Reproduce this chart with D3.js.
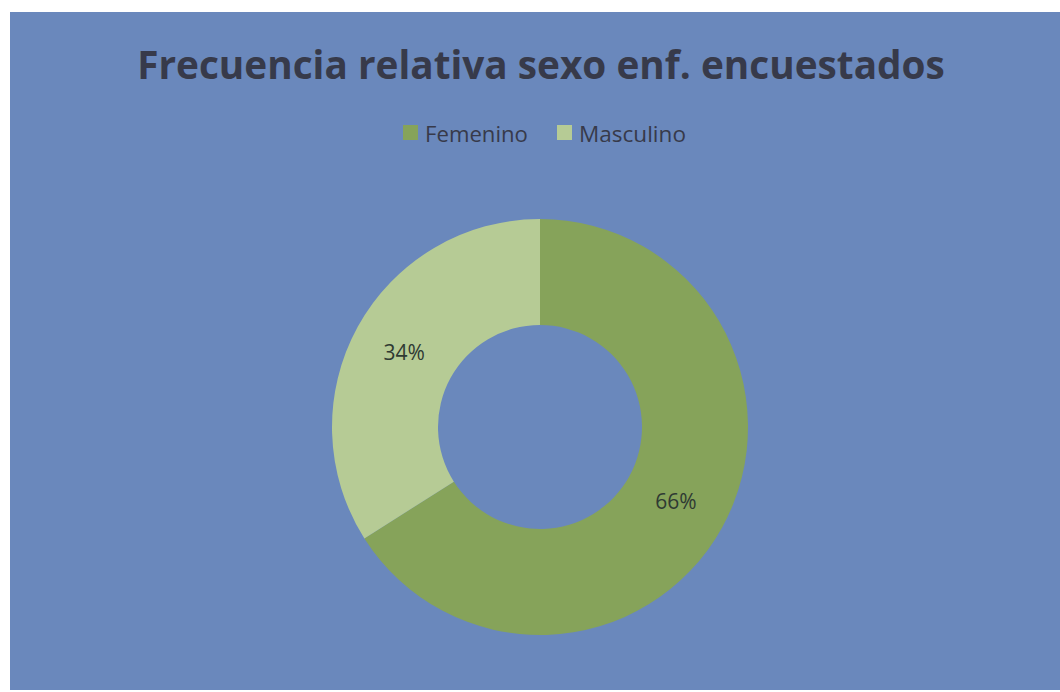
<!DOCTYPE html>
<html><head><meta charset="utf-8">
<script src="https://cdn.jsdelivr.net/npm/d3@7"></script>
<style>html,body{margin:0;padding:0;background:#fff;}svg{display:block;}</style>
</head><body>
<script>
const categories = ["Femenino", "Masculino"];
const values = [66, 34];
const colors = ["#86a35a", "#b6cb95"];
const title = "Frecuencia relativa sexo enf. encuestados";

const W = 1060, H = 692;
const svg = d3.select("body").append("svg").attr("width", W).attr("height", H);
svg.append("rect").attr("x", 0).attr("y", 0).attr("width", W).attr("height", H).attr("fill", "#ffffff");
svg.append("rect").attr("x", 10).attr("y", 12).attr("width", W - 10).attr("height", H - 14).attr("fill", "#6a88bc");

const font = "'Open Sans', 'DejaVu Sans', sans-serif";

function fitText(sel, targetW) {
  const len = sel.node().getComputedTextLength();
  const fs = parseFloat(sel.attr("font-size"));
  sel.attr("font-size", fs * targetW / len);
}

const t = svg.append("text").attr("x", 541).attr("y", 79).attr("text-anchor", "middle")
  .attr("font-family", font).attr("font-weight", 700).attr("font-size", 40)
  .attr("fill", "#373a4a").text(title);
fitText(t, 808);

// legend
const legX = [403, 557];
const legTW = [103, 107];
categories.forEach((c, i) => {
  svg.append("rect").attr("x", legX[i]).attr("y", 125).attr("width", 15).attr("height", 15).attr("fill", colors[i]);
  const lt = svg.append("text").attr("x", legX[i] + 22).attr("y", 142)
    .attr("font-family", font).attr("font-size", 21).attr("fill", "#373a4a").text(c);
  fitText(lt, legTW[i]);
});

// donut
const cx = 540, cy = 427, rOut = 208, rIn = 102;
const pie = d3.pie().sort(null).value(d => d)(values);
const arc = d3.arc().innerRadius(rIn).outerRadius(rOut);
const g = svg.append("g").attr("transform", `translate(${cx},${cy})`);
g.selectAll("path").data(pie).join("path").attr("d", arc).attr("fill", (d, i) => colors[i]);
const total = d3.sum(values);
g.selectAll("text.lbl").data(pie).join("text").attr("class", "lbl")
  .attr("transform", d => `translate(${arc.centroid(d)})`)
  .attr("text-anchor", "middle").attr("dy", "0.36em")
  .attr("font-family", font).attr("font-size", 21).attr("fill", "#2f3a33")
  .text(d => Math.round(d.value / total * 100) + "%");
</script>
</body></html>
